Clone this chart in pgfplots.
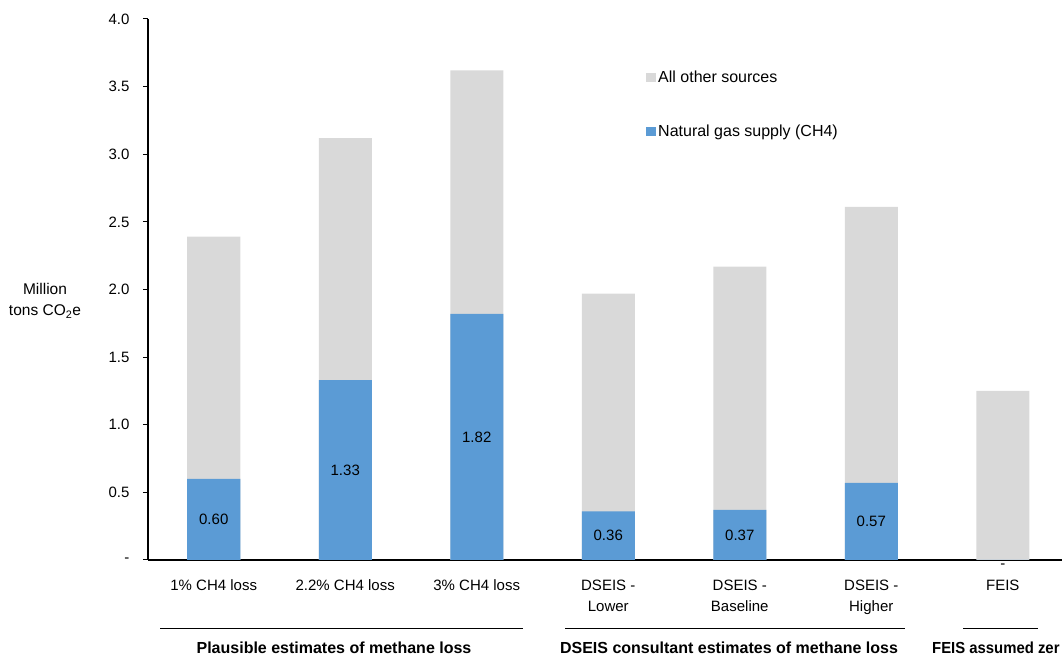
\documentclass[border=0pt]{standalone}
\usepackage{pgfplots}
\pgfplotsset{compat=1.18}
\usepackage{pgfplotstable}
\usepackage{fontspec}
\setmainfont{Liberation Sans}
\newfontfamily\narrowfont[FakeStretch=0.93]{Liberation Sans}
\definecolor{barblue}{HTML}{5B9BD5}
\definecolor{bargray}{HTML}{D9D9D9}
\pgfplotstableread{
x total gas ly lab
0 2.39 0.60 0.300 0.60
1 3.12 1.33 0.665 1.33
2 3.62 1.82 0.910 1.82
3 1.97 0.36 0.180 0.36
4 2.17 0.37 0.185 0.37
5 2.61 0.57 0.285 0.57
6 1.25 0.00 -0.045 -
}\data
\begin{document}
\begin{tikzpicture}
\begin{axis}[
  at={(0pt,0pt)}, anchor=south west,
  x=131.5pt, y=135.25pt,
  xmin=-0.5, xmax=6.45, ymin=0, ymax=4,
  clip=false,
  axis x line*=bottom, axis y line*=left,
  axis line style={-, line width=1.6pt, black},
  xtick={0,1,2,3,4,5,6},
  xticklabels={1\% CH4 loss, 2.2\% CH4 loss, 3\% CH4 loss, DSEIS -\\Lower, DSEIS -\\Baseline, DSEIS -\\Higher, FEIS},
  xtick style={draw=none},
  xticklabel style={font=\fontsize{15}{21}\selectfont, align=center, anchor=north, yshift=-11pt},
  ytick={0,0.5,1,1.5,2,2.5,3,3.5,4},
  yticklabels={-,0.5,1.0,1.5,2.0,2.5,3.0,3.5,4.0},
  ytick style={black, line width=1pt},
  tick align=outside, major tick length=5pt,
  yticklabel style={font=\fontsize{15}{17}\selectfont, xshift=-10pt},
  legend style={draw=none, fill=none, at={(0.5449,0.908)}, anchor=north west,
    inner xsep=0pt, inner ysep=0pt, row sep=37pt, font=\fontsize{16}{19}\selectfont},
  legend cell align=left,
]
\addplot[ybar, bar width=53pt, bar shift=0pt, fill=bargray, draw=none,
  legend image code/.code={\fill[bargray] (0pt,-4.5pt) rectangle (10pt,4.5pt);}]
  table[x=x, y=total] {\data};
\addlegendentry{All other sources}
\addplot[ybar, bar width=53pt, bar shift=0pt, fill=barblue, draw=none,
  legend image code/.code={\fill[barblue] (0pt,-4.5pt) rectangle (10pt,4.5pt);}]
  table[x=x, y=gas] {\data};
\addlegendentry{Natural gas supply (CH4)}
\addplot[draw=none, mark=none, forget plot, nodes near coords,
  point meta=explicit symbolic,
  nodes near coords style={anchor=center, font=\fontsize{15}{17}\selectfont, text=black}]
  table[x=x, y=ly, meta=lab] {\data};
\end{axis}
\node[align=center, font=\fontsize{15.5}{21}\selectfont] at (-103pt,259pt) {Million\\tons CO\textsubscript{2}e};
\draw[line width=1pt] (12pt,-69pt) -- (375pt,-69pt);
\draw[line width=1pt] (417pt,-69pt) -- (757pt,-69pt);
\draw[line width=1pt] (815pt,-69pt) -- (890pt,-69pt);
\node[font=\bfseries\fontsize{16}{19}\selectfont] at (186pt,-88pt) {Plausible estimates of methane loss};
\node[font=\bfseries\fontsize{16}{19}\selectfont] at (581pt,-88pt) {DSEIS consultant estimates of methane loss};
\node[font=\narrowfont\bfseries\fontsize{16}{19}\selectfont, anchor=west, inner xsep=0pt] at (784pt,-88pt) {FEIS assumed zer};
\pgfresetboundingbox
\useasboundingbox (-148pt,-95pt) rectangle (914pt,560pt);
\end{tikzpicture}
\end{document}
